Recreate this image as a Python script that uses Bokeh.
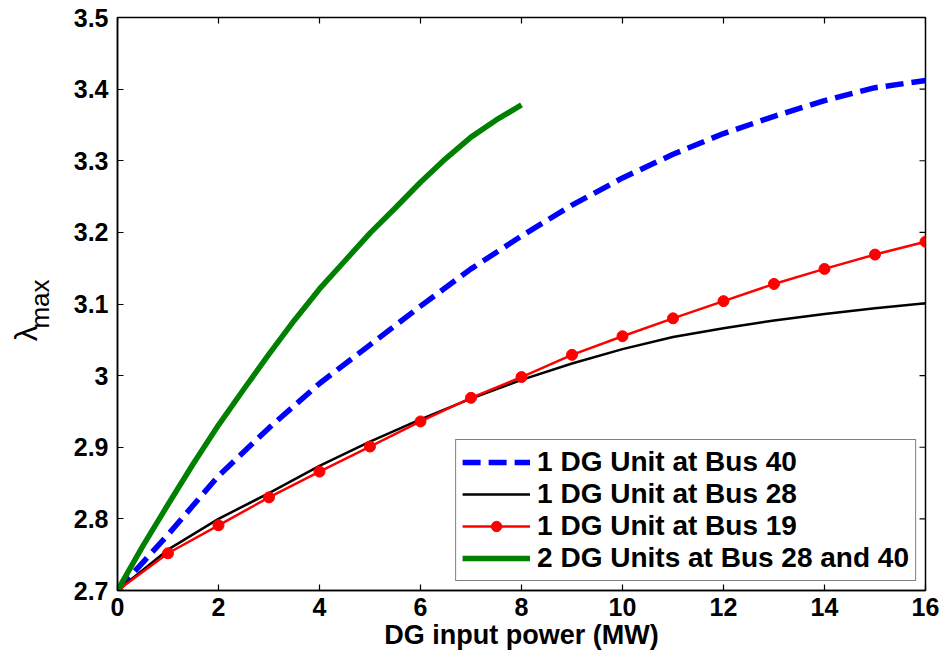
from math import pi

from bokeh.plotting import figure
from bokeh.layouts import row
from bokeh.models import Legend, LegendItem, FixedTicker, Range1d
from bokeh.core.properties import value
from bokeh.embed import file_html
from bokeh.resources import INLINE

# DG input power (MW) and maximum loading factor for each placement
power_mw = list(range(17))
bus40 = [2.700, 2.778, 2.860, 2.927, 2.989, 3.043, 3.097, 3.149, 3.195,
         3.238, 3.276, 3.309, 3.338, 3.362, 3.384, 3.402, 3.412]
bus28 = [2.700, 2.757, 2.800, 2.836, 2.874, 2.908, 2.939, 2.968, 2.994,
         3.017, 3.037, 3.054, 3.066, 3.077, 3.086, 3.094, 3.101]
bus19 = [2.700, 2.752, 2.791, 2.830, 2.866, 2.901, 2.936, 2.969, 2.998,
         3.029, 3.055, 3.080, 3.104, 3.128, 3.149, 3.169, 3.187]

# two units (Bus 28 and 40), sampled every 0.5 MW up to 8 MW
power_two = [0, 0.5, 1, 1.5, 2, 2.5, 3, 3.5, 4, 4.5, 5, 5.5, 6, 6.5, 7, 7.5, 8]
bus28_40 = [2.700, 2.762, 2.820, 2.877, 2.931, 2.981, 3.030, 3.077, 3.121,
            3.160, 3.199, 3.234, 3.270, 3.303, 3.333, 3.357, 3.378]

series_labels = ["1 DG Unit at Bus 40", "1 DG Unit at Bus 28",
                 "1 DG Unit at Bus 19", "2 DG Units at Bus 28 and 40"]

x_ticks = [0, 2, 4, 6, 8, 10, 12, 14, 16]
y_ticks = [2.7, 2.8, 2.9, 3.0, 3.1, 3.2, 3.3, 3.4, 3.5]
y_tick_labels = ["2.7", "2.8", "2.9", "3", "3.1", "3.2", "3.3", "3.4", "3.5"]
x_lim = (0, 16)
y_lim = (2.7, 3.5)

FONT = "Liberation Sans"
LABEL_W = 55

# ---- narrow strip that carries the y-axis title (lambda_max) ----
ylab = figure(width=LABEL_W, height=660, output_backend="svg",
              toolbar_location=None, x_range=Range1d(0, LABEL_W),
              y_range=Range1d(660, 0), x_axis_type=None, y_axis_type=None,
              min_border=0, outline_line_color=None,
              background_fill_color="white", border_fill_color="white")
ylab.grid.visible = False
ylab.text(x=[26], y=[364], text=["λ"], angle=pi / 2,
          text_align="center", text_baseline="middle",
          text_font=value(FONT), text_font_size="31px", text_color="black")
ylab.text(x=[39], y=[330], text=["max"], angle=pi / 2,
          text_align="center", text_baseline="middle",
          text_font=value(FONT), text_font_size="26px", text_color="black")

# ---- main chart ----
p = figure(width=947 - LABEL_W, height=660, output_backend="svg",
           toolbar_location=None,
           x_range=Range1d(*x_lim), y_range=Range1d(*y_lim),
           min_border_left=117 - LABEL_W, min_border_right=22,
           min_border_top=17, min_border_bottom=70,
           background_fill_color="white", border_fill_color="white")
p.xgrid.visible = False
p.ygrid.visible = False
p.outline_line_color = "black"
p.outline_line_width = 1.5


def style_axis(ax, ticks):
    ax.ticker = FixedTicker(ticks=ticks, minor_ticks=[])
    ax.major_tick_in = 6
    ax.major_tick_out = 0
    ax.minor_tick_in = 0
    ax.minor_tick_out = 0
    ax.major_tick_line_color = "black"
    ax.major_tick_line_width = 1.2
    ax.axis_line_color = "black"
    ax.axis_line_width = 1.5
    ax.major_label_text_font = FONT
    ax.major_label_text_font_style = "bold"
    ax.major_label_text_font_size = "25px"
    ax.major_label_text_color = "black"


xa = p.xaxis[0]
style_axis(xa, x_ticks)
xa.major_label_standoff = 7
xa.axis_label = "DG input power (MW)"
xa.axis_label_text_font = FONT
xa.axis_label_text_font_style = "bold"
xa.axis_label_text_font_size = "27px"
xa.axis_label_text_color = "black"
xa.axis_label_standoff = 1

ya = p.yaxis[0]
style_axis(ya, y_ticks)
ya.major_label_standoff = 9
ya.major_label_overrides = dict(zip(y_ticks, y_tick_labels))

# inward tick marks along the top and right edges of the box
p.scatter(x=x_ticks, y=[y_lim[1]] * len(x_ticks), marker="dash", size=12,
          angle=pi / 2, line_color="black", line_width=1.2)
p.scatter(x=[x_lim[1]] * len(y_ticks), y=y_ticks, marker="dash", size=12,
          line_color="black", line_width=1.2)

r40 = p.line(power_mw, bus40, line_color="#0000ff", line_width=5.5,
             line_dash="18 8")
r40_dot = p.scatter(x=[], y=[], marker="circle", size=6,
                    fill_color="#0000ff", line_color="#0000ff")
r28 = p.line(power_mw, bus28, line_color="black", line_width=2.5)
r19 = p.line(power_mw, bus19, line_color="#ff0000", line_width=2.5)
r19_dot = p.scatter(power_mw, bus19, marker="circle", size=11,
                    fill_color="#ff0000", line_color="#ff0000")
r2840 = p.line(power_two, bus28_40, line_color="#008000", line_width=5.5)

legend = Legend(items=[
    LegendItem(label=series_labels[0], renderers=[r40, r40_dot]),
    LegendItem(label=series_labels[1], renderers=[r28]),
    LegendItem(label=series_labels[2], renderers=[r19, r19_dot]),
    LegendItem(label=series_labels[3], renderers=[r2840]),
])
legend.location = "bottom_right"
legend.margin = 9
legend.padding = 6
legend.spacing = 0
legend.glyph_width = 68
legend.glyph_height = 26
legend.label_height = 26
legend.label_standoff = 7
legend.label_text_font = FONT
legend.label_text_font_style = "bold"
legend.label_text_font_size = "28px"
legend.label_text_color = "black"
legend.border_line_color = "black"
legend.border_line_width = 1.5
legend.background_fill_color = "white"
legend.background_fill_alpha = 1.0
p.add_layout(legend)

layout = row(ylab, p, spacing=0)
open("out.html", "w").write(file_html(layout, INLINE))
